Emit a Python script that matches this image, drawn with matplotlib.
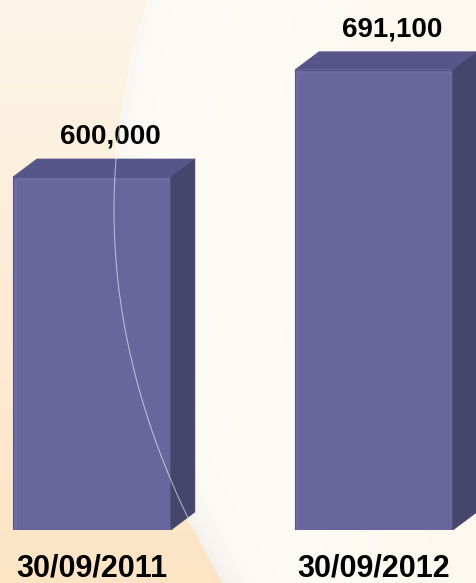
import numpy as np
import matplotlib.pyplot as plt
from matplotlib.patches import Polygon

# data
dates = ["30/09/2011", "30/09/2012"]
values = [600000, 691100]

AXIS_MIN = 300000
AXIS_MAX = 750412

FRONT = "#68669c"
TOP = "#57568a"
SIDE = "#46456b"

plt.rcParams["font.family"] = ["Liberation Sans", "DejaVu Sans"]

W, H = 476, 583
fig = plt.figure(figsize=(W / 100, H / 100), dpi=100)

# background: peach on the left, pale cream glow on the right
yy, xx = np.mgrid[0:H, 0:W].astype(float)
curve_x = 114 + 0.00078 * (yy - 210) ** 2
d = xx - curve_x
t = (yy / H)[..., None]
left = (1 - t) * np.array([253, 245, 232]) + t * np.array([252, 228, 197])
s = np.clip(d / np.maximum(W - curve_x, 1), 0, 1)[..., None]
right = (1 - s) * np.array([255, 253, 249]) + s * np.array([253, 248, 238])
shade = 1 - 0.05 * np.exp(-np.clip(d, 0, None) / 22)[..., None] * (0.4 + 0.6 * t)
right = right * shade
mix = np.clip(d / 2 + 0.5, 0, 1)[..., None]
img = (left * (1 - mix) + right * mix) / 255.0

bg = fig.add_axes([0, 0, 1, 1])
bg.imshow(img, extent=(0, W, H, 0), aspect="auto", interpolation="bilinear")
bg.set_xlim(0, W)
bg.set_ylim(H, 0)
bg.axis("off")

ax = fig.add_axes([0, 53 / H, 1, 530 / H])
ax.patch.set_alpha(0)
ax.set_xlim(-0.326, 1.362)
ax.set_ylim(AXIS_MIN, AXIS_MAX)
ax.axis("off")

x = np.arange(len(values))
width = 0.56
bars = ax.bar(x, [v - AXIS_MIN for v in values], width=width, bottom=AXIS_MIN,
              color=FRONT, edgecolor="#55538a", linewidth=0.8, zorder=3)

# depth of the 3d box, in data units
xr = ax.get_xlim()[1] - ax.get_xlim()[0]
yr = AXIS_MAX - AXIS_MIN
dx = 24 / W * xr
dy = 18 / 530 * yr
hx = 2.5 / W * xr
hy = 2.5 / 530 * yr

for i, (b, v) in enumerate(zip(bars, values)):
    xl = b.get_x()
    xrt = xl + b.get_width()
    top = b.get_y() + b.get_height()
    base = b.get_y()
    ax.add_patch(Polygon([(xl, top), (xl + dx, top + dy), (xrt + dx, top + dy), (xrt, top)],
                         closed=True, facecolor=TOP, edgecolor=TOP, lw=0.5, zorder=3,
                         joinstyle="round"))
    ax.add_patch(Polygon([(xrt, base), (xrt + dx, base + dy), (xrt + dx, top + dy), (xrt, top)],
                         closed=True, facecolor=SIDE, edgecolor=SIDE, lw=0.5, zorder=3))
    # bevel highlight on the front face
    ax.plot([xl + hx, xl + hx, xrt - hx], [base + hy, top - hy, top - hy],
            color="#7472a7", lw=2.2, alpha=0.5, zorder=4, solid_joinstyle="round")
    ax.text(xl + width / 2 + 0.065, top + dy + 0.018 * yr, f"{v:,}",
            ha="center", va="bottom", fontsize=20, fontweight="bold",
            color="black", zorder=5)
    ax.text(xl + width / 2, -0.044, dates[i],
            transform=ax.get_xaxis_transform(), ha="center", va="top",
            fontsize=22, fontweight="bold", color="black", clip_on=False, zorder=5)

# thin glow edge crossing the first bar
cy = np.linspace(0, H, 200)
ax.plot(114 + 0.00078 * (cy - 210) ** 2, cy, transform=bg.transData,
        color="white", lw=0.8, alpha=0.55, zorder=6)

fig.savefig("out.png", dpi=100)
